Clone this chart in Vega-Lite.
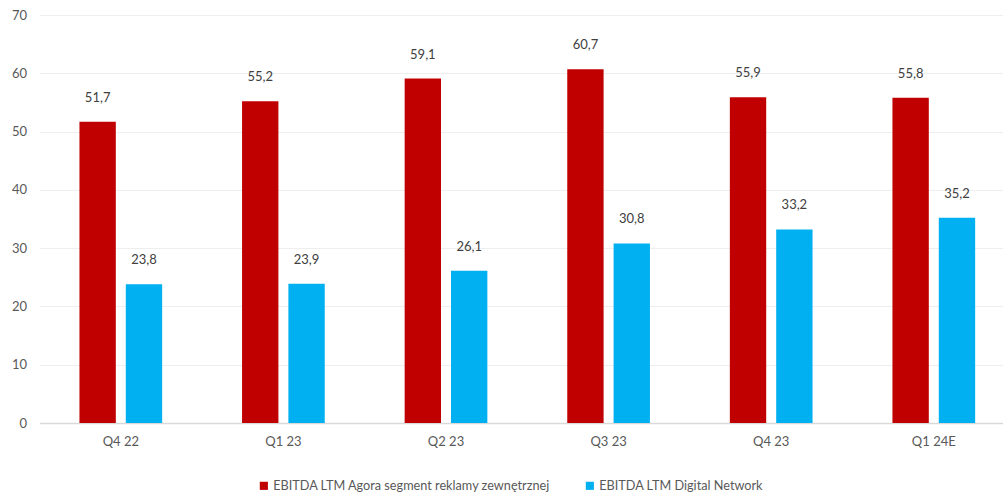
{
  "$schema": "https://vega.github.io/schema/vega-lite/v6.json",
  "width": 960,
  "height": 408,
  "autosize": "none",
  "padding": {"left": 39.5, "right": 3.5, "top": 15, "bottom": 72},
  "data": {"values": [
    {"q": "Q4 22", "s": "EBITDA LTM Agora segment reklamy zewnętrznej", "v": 51.7},
    {"q": "Q4 22", "s": "EBITDA LTM Digital Network", "v": 23.8},
    {"q": "Q1 23", "s": "EBITDA LTM Agora segment reklamy zewnętrznej", "v": 55.2},
    {"q": "Q1 23", "s": "EBITDA LTM Digital Network", "v": 23.9},
    {"q": "Q2 23", "s": "EBITDA LTM Agora segment reklamy zewnętrznej", "v": 59.1},
    {"q": "Q2 23", "s": "EBITDA LTM Digital Network", "v": 26.1},
    {"q": "Q3 23", "s": "EBITDA LTM Agora segment reklamy zewnętrznej", "v": 60.7},
    {"q": "Q3 23", "s": "EBITDA LTM Digital Network", "v": 30.8},
    {"q": "Q4 23", "s": "EBITDA LTM Agora segment reklamy zewnętrznej", "v": 55.9},
    {"q": "Q4 23", "s": "EBITDA LTM Digital Network", "v": 33.2},
    {"q": "Q1 24E", "s": "EBITDA LTM Agora segment reklamy zewnętrznej", "v": 55.8},
    {"q": "Q1 24E", "s": "EBITDA LTM Digital Network", "v": 35.2}
  ]},
  "encoding": {
    "x": {"field": "q", "type": "nominal", "sort": null,
          "scale": {"paddingInner": 0.4914, "paddingOuter": 0.2457, "range": [0, 975.6]},
          "axis": {"title": null, "labelAngle": 0, "ticks": false, "domainColor": "#D9D9D9", "domainWidth": 1.5, "labelPadding": 12, "labelFontSize": 13, "labelColor": "#595959"}},
    "xOffset": {"field": "s", "type": "nominal", "sort": null, "scale": {"paddingInner": 0.2155}},
    "y": {"field": "v", "type": "quantitative",
          "scale": {"domain": [0, 70]},
          "axis": {"title": null, "values": [0,10,20,30,40,50,60,70], "domain": false, "ticks": false, "gridColor": "#EEEEEE", "labelPadding": 13, "labelFontSize": 13, "labelColor": "#595959", "format": "d"}}
  },
  "layer": [
    {"mark": {"type": "bar"},
     "encoding": {"color": {"field": "s", "type": "nominal", "sort": null,
        "scale": {"range": ["#C00000", "#00B0F0"]},
        "legend": {"title": null, "orient": "none", "legendX": 218, "legendY": 464, "direction": "horizontal", "symbolType": "square", "symbolSize": 66, "symbolStrokeWidth": 0, "labelFontSize": 12.7, "labelOffset": 3, "labelColor": "#595959", "labelLimit": 400, "columnPadding": 33}}}},
    {"mark": {"type": "text", "baseline": "bottom", "dy": -17, "fontSize": 13, "color": "#404040"},
     "encoding": {"text": {"field": "v", "type": "quantitative", "format": ".1f"}}}
  ],
  "config": {
    "font": "Lato",
    "view": {"stroke": null},
    "locale": {"number": {"decimal": ",", "thousands": " ", "grouping": [3], "currency": ["", " zł"]}}
  }
}
